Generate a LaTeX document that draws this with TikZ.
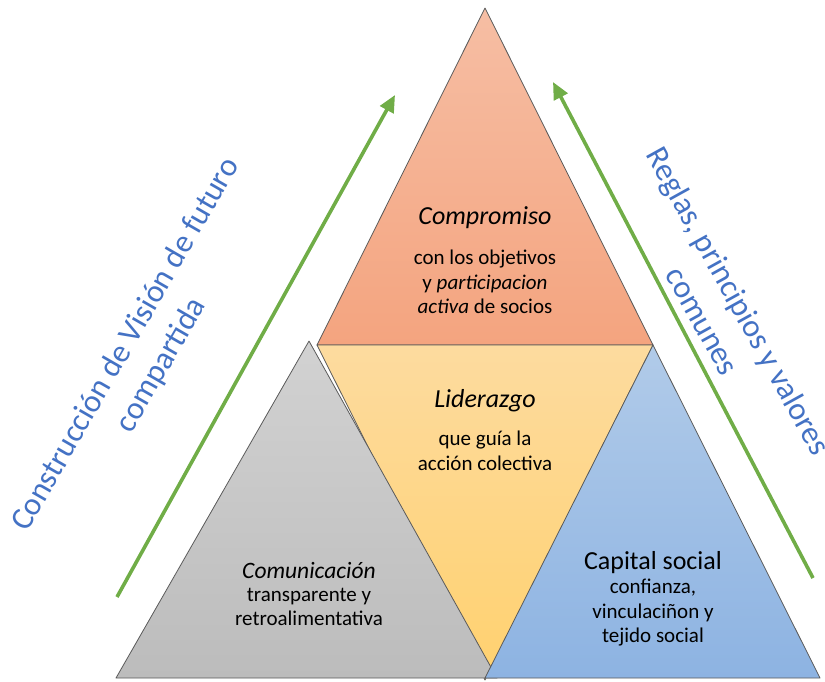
\documentclass[tikz,border=0pt]{standalone}
\usepackage{fontspec}
\setmainfont{Carlito}
\usetikzlibrary{arrows.meta}
\definecolor{orTop}{HTML}{F6BEA4}
\definecolor{orBot}{HTML}{F4A47F}
\definecolor{yeTop}{HTML}{FDDB9F}
\definecolor{yeBot}{HTML}{FFD16F}
\definecolor{grTop}{HTML}{D2D2D2}
\definecolor{grBot}{HTML}{BCBCBC}
\definecolor{blTop}{HTML}{B1CBE9}
\definecolor{blBot}{HTML}{8DB3E2}
\definecolor{edge}{HTML}{5A5A5A}
\definecolor{arrowgreen}{HTML}{70AD47}
\definecolor{sideblue}{HTML}{4472C4}
\tikzset{
  tri/.style={draw=edge, line width=0.8pt, line join=round},
  greenarrow/.style={draw=arrowgreen, line width=3.6pt, -{Triangle[length=17pt,width=15pt]}},
  head/.style={font=\fontsize{26}{30}\selectfont\itshape, text=black, inner sep=0pt},
  body/.style={font=\fontsize{21}{24.5}\selectfont, align=center, text=black, inner sep=0pt},
  sidetext/.style={font=\fontsize{32}{41}\selectfont, align=center, text=sideblue, inner sep=0pt}
}
\begin{document}
\begin{tikzpicture}[x=1pt,y=-1pt]
\useasboundingbox (0,0) rectangle (825,681);
% corner coordinates
\coordinate (TA) at (485,8);
\coordinate (TL) at (317,345);
\coordinate (TR) at (653,345);
\coordinate (YB) at (485,680);
\coordinate (GA) at (309,341);
\coordinate (GL) at (116,678);
\coordinate (GR) at (497,678);
\coordinate (BA) at (653,345);
\coordinate (BL) at (485,678);
\coordinate (BR) at (820,678);
% triangles
\shade[top color=orTop, bottom color=orBot] (TA) -- (TL) -- (TR) -- cycle;
\draw[tri] (TA) -- (TL) -- (TR) -- cycle;
\shade[top color=yeTop, bottom color=yeBot] (TL) -- (TR) -- (YB) -- cycle;
\draw[tri] (TL) -- (TR) -- (YB) -- cycle;
\shade[top color=grTop, bottom color=grBot] (GA) -- (GL) -- (GR) -- cycle;
\draw[tri] (GA) -- (GL) -- (GR) -- cycle;
\shade[top color=blTop, bottom color=blBot] (BA) -- (BL) -- (BR) -- cycle;
\draw[tri] (BA) -- (BL) -- (BR) -- cycle;
% texts in triangles
\node[head] (compromiso) at (485,218) {Compromiso};
\node[body] (compbody) at (485,282) {con los objetivos\\y \textit{participacion}\\\textit{activa} de socios};
\node[head] (liderazgo) at (485,401) {Liderazgo};
\node[body] (lidbody) at (485,451) {que guía la\\acción colectiva};
\node[head, font=\fontsize{23.5}{28}\selectfont\itshape] (comunicacion) at (309,570) {Comunicación};
\node[body] (combody) at (309,607) {transparente y\\retroalimentativa};
\node[head, font=\fontsize{26}{30}\selectfont] (capital) at (653,563) {Capital social};
\node[body] (capbody) at (653,613) {confianza,\\vinculaciñon y\\tejido social};
% arrows
\coordinate (la1) at (117,597);
\coordinate (la2) at (395,95);
\coordinate (ra1) at (813,578);
\coordinate (ra2) at (553,82);
\draw[greenarrow] (la1) -- (la2);
\draw[greenarrow] (ra1) -- (ra2);
% side texts
\node[sidetext, rotate=60] (vision) at (144,355) {Construcción de Visión de futuro\\compartida};
\node[sidetext, rotate=-61] (reglas) at (721,311) {Reglas, principios y valores\\comunes};
\end{tikzpicture}
\end{document}
